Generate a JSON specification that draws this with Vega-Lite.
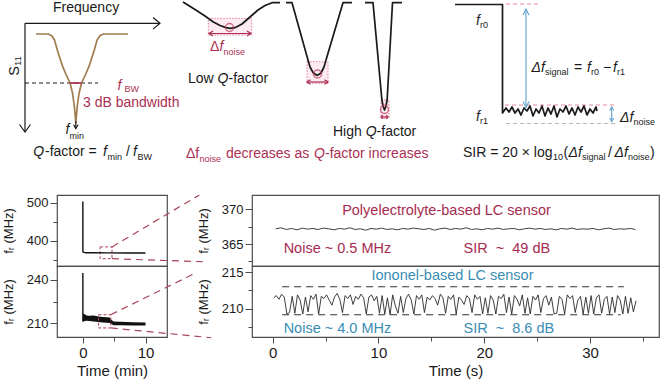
{
"$schema":"https://vega.github.io/schema/vega-lite/v6.json",
"padding":0,
"background":"#ffffff",
"bounds":"flush",
"spacing":0,
"resolve":{"scale":{"x":"independent","y":"independent","color":"independent"}},
"config":{"font":"Liberation Sans","view":{"stroke":"#4d4d4d","strokeWidth":1.2},"axis":{"domain":false,"grid":false,"labelColor":"#1a1a1a","titleColor":"#1a1a1a","tickColor":"#4d4d4d","tickWidth":1,"titleFontWeight":"normal","labelFont":"Liberation Sans","titleFont":"Liberation Sans"},"text":{"font":"Liberation Sans"}},
"datasets":{
"topSolid":[
{"g":"dip","c":"tan","x":36,"y":34},{"g":"dip","c":"tan","x":48,"y":34},{"g":"dip","c":"tan","x":51.5,"y":35.5},{"g":"dip","c":"tan","x":54.5,"y":40},{"g":"dip","c":"tan","x":57.3,"y":50},{"g":"dip","c":"tan","x":60,"y":58.5},{"g":"dip","c":"tan","x":62.7,"y":66.7},{"g":"dip","c":"tan","x":66.3,"y":75},{"g":"dip","c":"tan","x":70,"y":83},{"g":"dip","c":"tan","x":72.5,"y":93},{"g":"dip","c":"tan","x":74.2,"y":105},{"g":"dip","c":"tan","x":75.8,"y":122.7},{"g":"dip","c":"tan","x":77.4,"y":105},{"g":"dip","c":"tan","x":79.1,"y":93},{"g":"dip","c":"tan","x":81.6,"y":83},{"g":"dip","c":"tan","x":85.3,"y":75},{"g":"dip","c":"tan","x":88.9,"y":66.7},{"g":"dip","c":"tan","x":91.6,"y":58.5},{"g":"dip","c":"tan","x":94.3,"y":50},{"g":"dip","c":"tan","x":97.1,"y":40},{"g":"dip","c":"tan","x":100.1,"y":35.5},{"g":"dip","c":"tan","x":103.6,"y":34},{"g":"dip","c":"tan","x":128,"y":34},
{"g":"bw","c":"accent","x":70,"y":83},{"g":"bw","c":"accent","x":81.6,"y":83},
{"g":"lowq","c":"ink","x":183,"y":2},{"g":"lowq","c":"ink","x":195,"y":9.5},{"g":"lowq","c":"ink","x":205,"y":16},{"g":"lowq","c":"ink","x":213,"y":21.7},{"g":"lowq","c":"ink","x":220,"y":25.5},{"g":"lowq","c":"ink","x":226,"y":27.6},{"g":"lowq","c":"ink","x":230,"y":28.3},{"g":"lowq","c":"ink","x":235,"y":27.7},{"g":"lowq","c":"ink","x":242,"y":24},{"g":"lowq","c":"ink","x":250,"y":17},{"g":"lowq","c":"ink","x":258,"y":10},{"g":"lowq","c":"ink","x":265,"y":5.5},{"g":"lowq","c":"ink","x":272,"y":2.7},{"g":"lowq","c":"ink","x":280,"y":2.7},
{"g":"medq","c":"ink","x":286,"y":2.7},{"g":"medq","c":"ink","x":292,"y":2.7},{"g":"medq","c":"ink","x":308,"y":60},{"g":"medq","c":"ink","x":310,"y":67},{"g":"medq","c":"ink","x":313,"y":72.5},{"g":"medq","c":"ink","x":317,"y":75.5},{"g":"medq","c":"ink","x":321,"y":73},{"g":"medq","c":"ink","x":324,"y":67},{"g":"medq","c":"ink","x":326,"y":60},{"g":"medq","c":"ink","x":343,"y":2.7},{"g":"medq","c":"ink","x":352,"y":2.7},
{"g":"highq","c":"ink","x":365,"y":2.7},{"g":"highq","c":"ink","x":373,"y":2.7},{"g":"highq","c":"ink","x":381.8,"y":99},{"g":"highq","c":"ink","x":383,"y":106},{"g":"highq","c":"ink","x":384.5,"y":110},{"g":"highq","c":"ink","x":386,"y":106},{"g":"highq","c":"ink","x":387.2,"y":99},{"g":"highq","c":"ink","x":392.5,"y":2.7},{"g":"highq","c":"ink","x":402,"y":2.7},
{"g":"step","c":"ink","x":455,"y":4.5},{"g":"step","c":"ink","x":502.5,"y":4.5},{"g":"step","c":"ink","x":502.5,"y":113},{"g":"step","c":"ink","x":506,"y":108},{"g":"step","c":"ink","x":509,"y":112},{"g":"step","c":"ink","x":512,"y":107},{"g":"step","c":"ink","x":515,"y":113},{"g":"step","c":"ink","x":518,"y":109},{"g":"step","c":"ink","x":521,"y":115},{"g":"step","c":"ink","x":524,"y":108},{"g":"step","c":"ink","x":527,"y":111},{"g":"step","c":"ink","x":530,"y":106},{"g":"step","c":"ink","x":533,"y":116},{"g":"step","c":"ink","x":536,"y":109},{"g":"step","c":"ink","x":539,"y":113},{"g":"step","c":"ink","x":542,"y":106},{"g":"step","c":"ink","x":545,"y":116},{"g":"step","c":"ink","x":548,"y":108},{"g":"step","c":"ink","x":551,"y":114},{"g":"step","c":"ink","x":554,"y":106},{"g":"step","c":"ink","x":557,"y":117},{"g":"step","c":"ink","x":560,"y":109},{"g":"step","c":"ink","x":563,"y":112},{"g":"step","c":"ink","x":566,"y":106},{"g":"step","c":"ink","x":569,"y":114},{"g":"step","c":"ink","x":572,"y":108},{"g":"step","c":"ink","x":575,"y":115},{"g":"step","c":"ink","x":578,"y":107},{"g":"step","c":"ink","x":581,"y":112},{"g":"step","c":"ink","x":584,"y":106},{"g":"step","c":"ink","x":587,"y":115},{"g":"step","c":"ink","x":590,"y":109},{"g":"step","c":"ink","x":593,"y":113},{"g":"step","c":"ink","x":596,"y":107},{"g":"step","c":"ink","x":597,"y":111}
],
"topFine":[
{"g":"ax","c":"ink","x":25,"y":23.3},{"g":"ax","c":"ink","x":160,"y":23.3},
{"g":"axh","c":"ink","x":153,"y":17.5},{"g":"axh","c":"ink","x":160,"y":23.3},{"g":"axh","c":"ink","x":153,"y":29.1},
{"g":"ay","c":"ink","x":25,"y":23.3},{"g":"ay","c":"ink","x":25,"y":132},
{"g":"ayh","c":"ink","x":19.5,"y":124.5},{"g":"ayh","c":"ink","x":25,"y":132},{"g":"ayh","c":"ink","x":30.5,"y":124.5},
{"g":"tp","c":"ink","x":75.8,"y":121},{"g":"tp","c":"ink","x":75.8,"y":128.5},
{"g":"tph","c":"ink","x":73.6,"y":124.8},{"g":"tph","c":"ink","x":75.8,"y":128.5},{"g":"tph","c":"ink","x":78,"y":124.8},
{"g":"da1","c":"accent","x":209,"y":33.5},{"g":"da1","c":"accent","x":251,"y":33.5},
{"g":"da1a","c":"accent","x":213,"y":31},{"g":"da1a","c":"accent","x":209,"y":33.5},{"g":"da1a","c":"accent","x":213,"y":36},
{"g":"da1b","c":"accent","x":247,"y":31},{"g":"da1b","c":"accent","x":251,"y":33.5},{"g":"da1b","c":"accent","x":247,"y":36},
{"g":"da2","c":"accent","x":307,"y":82},{"g":"da2","c":"accent","x":328,"y":82},
{"g":"da2a","c":"accent","x":310.5,"y":79.8},{"g":"da2a","c":"accent","x":307,"y":82},{"g":"da2a","c":"accent","x":310.5,"y":84.2},
{"g":"da2b","c":"accent","x":324.5,"y":79.8},{"g":"da2b","c":"accent","x":328,"y":82},{"g":"da2b","c":"accent","x":324.5,"y":84.2},
{"g":"da3","c":"accent","x":381,"y":117},{"g":"da3","c":"accent","x":388,"y":117},
{"g":"da3a","c":"accent","x":383,"y":115.3},{"g":"da3a","c":"accent","x":381,"y":117},{"g":"da3a","c":"accent","x":383,"y":118.7},
{"g":"da3b","c":"accent","x":386,"y":115.3},{"g":"da3b","c":"accent","x":388,"y":117},{"g":"da3b","c":"accent","x":386,"y":118.7},
{"g":"bl","c":"sky","x":526,"y":9},{"g":"bl","c":"sky","x":526,"y":107.5},
{"g":"bla","c":"sky","x":523,"y":15},{"g":"bla","c":"sky","x":526,"y":9},{"g":"bla","c":"sky","x":529,"y":15},
{"g":"blb","c":"sky","x":523,"y":101.5},{"g":"blb","c":"sky","x":526,"y":107.5},{"g":"blb","c":"sky","x":529,"y":101.5},
{"g":"bs","c":"sky","x":611.7,"y":107},{"g":"bs","c":"sky","x":611.7,"y":121.5},
{"g":"bsa","c":"sky","x":609.7,"y":110.5},{"g":"bsa","c":"sky","x":611.7,"y":107},{"g":"bsa","c":"sky","x":613.7,"y":110.5},
{"g":"bsb","c":"sky","x":609.7,"y":118},{"g":"bsb","c":"sky","x":611.7,"y":121.5},{"g":"bsb","c":"sky","x":613.7,"y":118}
],
"topDash":[
{"g":"bwd","c":"ink","x":25,"y":83},{"g":"bwd","c":"ink","x":98,"y":83},
{"g":"c0","c":"pink","x":506,"y":4},{"g":"c0","c":"pink","x":540,"y":4},
{"g":"c1","c":"pink","x":505,"y":105},{"g":"c1","c":"pink","x":617,"y":105},
{"g":"c2","c":"mist","x":506,"y":123.5},{"g":"c2","c":"mist","x":617,"y":123.5}
],
"topBoxes":[{"x":208.3,"y":18.3,"x2":251.7,"y2":35},{"x":307,"y":61.7,"x2":328,"y2":83.3},{"x":381,"y":100,"x2":389,"y2":118}],
"topDots":[{"x":229.5,"y":27.5},{"x":317.5,"y":74},{"x":384.5,"y":109.5}],
"txtN":[
{"c":"ink","x":53,"y":12,"s":"Frequency"},
{"c":"accent","x":83,"y":107,"s":"3 dB bandwidth"},
{"c":"ink","x":45,"y":156,"s":"-factor ="},
{"c":"ink","x":126,"y":156,"s":"/"},
{"c":"ink","x":188,"y":83,"s":"Low"},
{"c":"ink","x":228.5,"y":83,"s":"-factor"},
{"c":"ink","x":333,"y":136,"s":"High"},
{"c":"ink","x":376.6,"y":136,"s":"-factor"},
{"c":"accent","x":210,"y":51,"s":"Δ"},
{"c":"accent","x":186,"y":158,"s":"Δf"},
{"c":"accent","x":226,"y":158,"s":"decreases as"},
{"c":"accent","x":325,"y":158,"s":"-factor increases"},
{"c":"ink","x":574,"y":71.5,"s":"="},
{"c":"ink","x":603,"y":71.5,"s":"−"},
{"c":"ink","x":463,"y":156.5,"s":"SIR = 20 × log"},
{"c":"ink","x":563.5,"y":156.5,"s":"("},
{"c":"ink","x":608,"y":156.5,"s":"/"},
{"c":"ink","x":650,"y":156.5,"s":")"}
],
"txtI":[
{"c":"accent","x":117.5,"y":89.5,"s":"f"},
{"c":"ink","x":65.5,"y":134,"s":"f"},
{"c":"ink","x":33.3,"y":156,"s":"Q"},
{"c":"ink","x":103,"y":156,"s":"f"},
{"c":"ink","x":133,"y":156,"s":"f"},
{"c":"accent","x":219.5,"y":51,"s":"f"},
{"c":"ink","x":217.6,"y":83,"s":"Q"},
{"c":"ink","x":365.7,"y":136,"s":"Q"},
{"c":"accent","x":314,"y":158,"s":"Q"},
{"c":"ink","x":476,"y":25,"s":"f"},
{"c":"ink","x":476,"y":121,"s":"f"},
{"c":"ink","x":531.5,"y":71.5,"s":"Δf"},
{"c":"ink","x":587,"y":71.5,"s":"f"},
{"c":"ink","x":613,"y":71.5,"s":"f"},
{"c":"ink","x":620,"y":121.5,"s":"Δf"},
{"c":"ink","x":568.5,"y":156.5,"s":"Δf"},
{"c":"ink","x":614.5,"y":156.5,"s":"Δf"}
],
"txtS":[
{"c":"accent","x":124.5,"y":92,"s":"BW"},
{"c":"ink","x":69.5,"y":139,"s":"min"},
{"c":"ink","x":107.5,"y":160,"s":"min"},
{"c":"ink","x":137.5,"y":160,"s":"BW"},
{"c":"accent","x":223.5,"y":55,"s":"noise"},
{"c":"accent","x":199.5,"y":162,"s":"noise"},
{"c":"ink","x":480,"y":28,"s":"r0"},
{"c":"ink","x":480,"y":124,"s":"r1"},
{"c":"ink","x":545,"y":75,"s":"signal"},
{"c":"ink","x":591,"y":75,"s":"r0"},
{"c":"ink","x":617,"y":75,"s":"r1"},
{"c":"ink","x":633.5,"y":125,"s":"noise"},
{"c":"ink","x":553,"y":160,"s":"10"},
{"c":"ink","x":582,"y":160,"s":"signal"},
{"c":"ink","x":628,"y":160,"s":"noise"}
],
"txtRot":[{"x":15,"y":71,"s":"S"}],
"txtRotS":[{"x":18,"y":61,"s":"11"}],
"l1Line":[{"t":0,"f":503},{"t":0,"f":371},{"t":0.15,"f":369.5},{"t":0.5,"f":368.8},{"t":1.5,"f":368.5},{"t":4,"f":368.3},{"t":7,"f":368.1},{"t":10,"f":368}],
"l1Box":[{"t":2.75,"t2":4.65,"f":353,"f2":384}],
"l1Zoom":[{"g":"u","t":4.65,"f":384},{"g":"u","t":18.6,"f":520.1},{"g":"d","t":4.65,"f":353},{"g":"d","t":19.1,"f":345.2}],
"l2Line":[{"t":0,"f":244.6},{"t":0,"f":211.3}],
"l2Band":[{"t":0,"f":211.2,"f2":212.5},{"t":0.05,"f":211.2,"f2":216.8},{"t":0.3,"f":211.6,"f2":216.3},{"t":0.6,"f":211.8,"f2":215.4},{"t":1.0,"f":211.7,"f2":215.2},{"t":1.7,"f":211.4,"f2":215.4},{"t":2.5,"f":211.0,"f2":214.8},{"t":3.2,"f":210.7,"f2":214.5},{"t":3.8,"f":210.4,"f2":214.3},{"t":4.3,"f":210.3,"f2":214.0},{"t":4.6,"f":209.4,"f2":212.4},{"t":4.9,"f":208.7,"f2":211.4},{"t":6,"f":208.7,"f2":211.1},{"t":8,"f":208.6,"f2":210.9},{"t":10,"f":208.6,"f2":210.7}],
"l2Box":[{"t":2.5,"t2":4.45,"f":206.9,"f2":216}],
"l2Zoom":[{"g":"u","t":4.45,"f":216},{"g":"u","t":18.1,"f":244.8},{"g":"d","t":4.45,"f":206.9},{"g":"d","t":20.5,"f":200.2}],
"r1Line":[{"t":0.3,"f":367.2},{"t":0.8,"f":367.35},{"t":1.3,"f":367.1},{"t":1.8,"f":367.25},{"t":2.3,"f":367.05},{"t":2.8,"f":367.3},{"t":3.3,"f":367.15},{"t":3.8,"f":367.25},{"t":4.3,"f":367.1},{"t":4.8,"f":367.3},{"t":5.3,"f":367.2},{"t":5.8,"f":367.05},{"t":6.3,"f":367.25},{"t":6.8,"f":367.15},{"t":7.3,"f":367.35},{"t":7.8,"f":367.1},{"t":8.3,"f":367.2},{"t":8.8,"f":367.0},{"t":9.3,"f":367.25},{"t":9.8,"f":367.15},{"t":10.3,"f":367.3},{"t":10.8,"f":367.1},{"t":11.3,"f":367.2},{"t":11.8,"f":367.05},{"t":12.3,"f":367.25},{"t":12.8,"f":367.15},{"t":13.3,"f":367.3},{"t":13.8,"f":367.2},{"t":14.3,"f":367.1},{"t":14.8,"f":367.25},{"t":15.3,"f":367.0},{"t":15.8,"f":367.2},{"t":16.3,"f":367.3},{"t":16.8,"f":367.1},{"t":17.3,"f":367.25},{"t":17.8,"f":367.15},{"t":18.3,"f":367.35},{"t":18.8,"f":367.1},{"t":19.3,"f":367.2},{"t":19.8,"f":367.05},{"t":20.3,"f":367.25},{"t":20.8,"f":367.15},{"t":21.3,"f":367.3},{"t":21.8,"f":367.1},{"t":22.3,"f":367.2},{"t":22.8,"f":367.25},{"t":23.3,"f":367.05},{"t":23.8,"f":367.2},{"t":24.3,"f":367.3},{"t":24.8,"f":367.15},{"t":25.3,"f":367.25},{"t":25.8,"f":367.1},{"t":26.3,"f":367.2},{"t":26.8,"f":367.05},{"t":27.3,"f":367.25},{"t":27.8,"f":367.15},{"t":28.3,"f":367.3},{"t":28.8,"f":367.1},{"t":29.3,"f":367.2},{"t":29.8,"f":367.15},{"t":30.3,"f":367.25},{"t":30.8,"f":367.05},{"t":31.3,"f":367.2},{"t":31.8,"f":367.3},{"t":32.3,"f":367.1},{"t":32.8,"f":367.2},{"t":33.3,"f":367.15},{"t":33.8,"f":367.25},{"t":34.3,"f":367.1}],
"r1Txt":[{"t":6.57,"f":369.15,"s":"Polyelectrolyte-based LC sensor"},{"t":1.04,"f":363.73,"s":"Noise ~ 0.5 MHz"},{"t":18.04,"f":363.73,"s":"SIR\u00a0 ~\u00a0 49 dB"}],
"r2Line":[{"t":0.1,"f":211.5},{"t":0.35,"f":211.8},{"t":0.6,"f":211.3},{"t":0.85,"f":212.0},{"t":1.1,"f":211.6},{"t":1.35,"f":209.3},{"t":1.6,"f":209.5},{"t":1.85,"f":211.7},{"t":2.1,"f":209.4},{"t":2.35,"f":211.9},{"t":2.6,"f":211.2},{"t":2.85,"f":209.3},{"t":3.1,"f":211.6},{"t":3.35,"f":209.6},{"t":3.6,"f":211.8},{"t":3.85,"f":211.3},{"t":4.1,"f":212.0},{"t":4.35,"f":209.3},{"t":4.6,"f":211.7},{"t":4.85,"f":211.4},{"t":5.1,"f":211.9},{"t":5.35,"f":211.2},{"t":5.6,"f":210.5},{"t":5.85,"f":211.6},{"t":6.1,"f":212.1},{"t":6.35,"f":211.3},{"t":6.6,"f":209.5},{"t":6.85,"f":211.8},{"t":7.1,"f":211.4},{"t":7.35,"f":211.9},{"t":7.6,"f":210.6},{"t":7.85,"f":211.7},{"t":8.1,"f":211.3},{"t":8.35,"f":212.0},{"t":8.6,"f":211.5},{"t":8.85,"f":209.3},{"t":9.1,"f":211.6},{"t":9.35,"f":211.9},{"t":9.6,"f":211.1},{"t":9.85,"f":211.7},{"t":10.1,"f":209.4},{"t":10.35,"f":211.8},{"t":10.6,"f":209.3},{"t":10.85,"f":211.5},{"t":11.1,"f":209.2},{"t":11.35,"f":211.9},{"t":11.6,"f":210.4},{"t":11.85,"f":209.4},{"t":12.1,"f":211.7},{"t":12.35,"f":209.5},{"t":12.6,"f":211.4},{"t":12.85,"f":212.0},{"t":13.1,"f":211.2},{"t":13.35,"f":209.3},{"t":13.6,"f":211.8},{"t":13.85,"f":211.3},{"t":14.1,"f":211.9},{"t":14.35,"f":209.5},{"t":14.6,"f":211.6},{"t":14.85,"f":211.2},{"t":15.1,"f":211.8},{"t":15.35,"f":211.4},{"t":15.6,"f":210.5},{"t":15.85,"f":212.0},{"t":16.1,"f":211.5},{"t":16.35,"f":209.4},{"t":16.6,"f":211.7},{"t":16.85,"f":211.3},{"t":17.1,"f":211.9},{"t":17.35,"f":209.3},{"t":17.6,"f":211.6},{"t":17.85,"f":211.2},{"t":18.1,"f":210.6},{"t":18.35,"f":211.8},{"t":18.6,"f":211.4},{"t":18.85,"f":209.5},{"t":19.1,"f":211.9},{"t":19.35,"f":211.3},{"t":19.6,"f":211.7},{"t":19.85,"f":209.3},{"t":20.1,"f":211.5},{"t":20.35,"f":209.4},{"t":20.6,"f":211.8},{"t":20.85,"f":211.2},{"t":21.1,"f":209.3},{"t":21.35,"f":211.7},{"t":21.6,"f":211.4},{"t":21.85,"f":212.0},{"t":22.1,"f":209.5},{"t":22.35,"f":211.6},{"t":22.6,"f":209.3},{"t":22.85,"f":211.8},{"t":23.1,"f":211.3},{"t":23.35,"f":210.4},{"t":23.6,"f":211.9},{"t":23.85,"f":209.4},{"t":24.1,"f":211.5},{"t":24.35,"f":209.3},{"t":24.6,"f":211.7},{"t":24.85,"f":211.2},{"t":25.1,"f":211.9},{"t":25.35,"f":209.5},{"t":25.6,"f":211.4},{"t":25.85,"f":211.8},{"t":26.1,"f":210.5},{"t":26.35,"f":211.6},{"t":26.6,"f":209.3},{"t":26.85,"f":209.4},{"t":27.1,"f":211.7},{"t":27.35,"f":211.3},{"t":27.6,"f":209.3},{"t":27.85,"f":211.9},{"t":28.1,"f":211.4},{"t":28.35,"f":211.8},{"t":28.6,"f":209.5},{"t":28.85,"f":211.2},{"t":29.1,"f":211.7},{"t":29.35,"f":209.3},{"t":29.6,"f":211.6},{"t":29.85,"f":209.4},{"t":30.1,"f":211.8},{"t":30.35,"f":209.3},{"t":30.6,"f":211.5},{"t":30.85,"f":211.9},{"t":31.1,"f":209.4},{"t":31.35,"f":211.3},{"t":31.6,"f":211.7},{"t":31.85,"f":209.3},{"t":32.1,"f":211.6},{"t":32.35,"f":209.5},{"t":32.6,"f":211.8},{"t":32.85,"f":211.2},{"t":33.1,"f":209.3},{"t":33.35,"f":211.7},{"t":33.6,"f":209.4},{"t":33.85,"f":211.5},{"t":34.1,"f":209.6},{"t":34.35,"f":211.1}],
"r2Dash":[{"g":"hi","t":0.9,"f":213},{"g":"hi","t":33.2,"f":213},{"g":"lo","t":0.9,"f":209.2},{"g":"lo","t":32.9,"f":209.2}],
"r2Txt":[{"t":9.34,"f":213.87,"s":"Iononel-based LC sensor"},{"t":1.04,"f":206.77,"s":"Noise ~ 4.0 MHz"},{"t":18.04,"f":206.77,"s":"SIR\u00a0 ~\u00a0 8.6 dB"}]
},
"vconcat":[
{
"width":660,"height":195,
"view":{"stroke":null},
"encoding":{
"x":{"field":"x","type":"quantitative","scale":{"domain":[0,660],"nice":false,"zero":false},"axis":null},
"y":{"field":"y","type":"quantitative","scale":{"domain":[0,195],"reverse":true,"nice":false,"zero":false},"axis":null}
},
"layer":[
{"data":{"name":"topBoxes"},"mark":{"type":"rect","fill":"#fcebf0","stroke":"#e07d96","strokeWidth":1,"strokeDash":[1.5,1.5]},"encoding":{"x2":{"field":"x2"},"y2":{"field":"y2"}}},
{"data":{"name":"topDash"},"mark":{"type":"line","strokeDash":[4,3],"strokeWidth":1.2},"encoding":{"color":{"field":"c","type":"nominal","scale":{"domain":["ink","accent","tan","sky","pink","mist"],"range":["#1a1a1a","#ab2f52","#9f7d4f","#6aa8cf","#e8899f","#b8b8b8"]},"legend":null},"detail":{"field":"g"},"order":{"value":null}}},
{"data":{"name":"topSolid"},"mark":{"type":"line","strokeWidth":1.7,"strokeJoin":"round"},"encoding":{"color":{"field":"c","type":"nominal","scale":{"domain":["ink","accent","tan","sky","pink","mist"],"range":["#1a1a1a","#ab2f52","#9f7d4f","#6aa8cf","#e8899f","#b8b8b8"]},"legend":null},"detail":{"field":"g"},"order":{"value":null}}},
{"data":{"name":"topFine"},"mark":{"type":"line","strokeWidth":1.2},"encoding":{"color":{"field":"c","type":"nominal","scale":{"domain":["ink","accent","tan","sky","pink","mist"],"range":["#1a1a1a","#ab2f52","#9f7d4f","#6aa8cf","#e8899f","#b8b8b8"]},"legend":null},"detail":{"field":"g"},"order":{"value":null}}},
{"data":{"name":"topDots"},"mark":{"type":"point","shape":"circle","filled":false,"size":64,"strokeWidth":1.4,"color":"#c23a5e"}},
{"data":{"name":"txtN"},"mark":{"type":"text","align":"left","baseline":"alphabetic","fontSize":14},"encoding":{"text":{"field":"s"},"color":{"field":"c","type":"nominal","scale":{"domain":["ink","accent","tan","sky","pink","mist"],"range":["#1a1a1a","#ab2f52","#9f7d4f","#6aa8cf","#e8899f","#b8b8b8"]},"legend":null}}},
{"data":{"name":"txtI"},"mark":{"type":"text","align":"left","baseline":"alphabetic","fontSize":14,"fontStyle":"italic"},"encoding":{"text":{"field":"s"},"color":{"field":"c","type":"nominal","scale":{"domain":["ink","accent","tan","sky","pink","mist"],"range":["#1a1a1a","#ab2f52","#9f7d4f","#6aa8cf","#e8899f","#b8b8b8"]},"legend":null}}},
{"data":{"name":"txtS"},"mark":{"type":"text","align":"left","baseline":"alphabetic","fontSize":9},"encoding":{"text":{"field":"s"},"color":{"field":"c","type":"nominal","scale":{"domain":["ink","accent","tan","sky","pink","mist"],"range":["#1a1a1a","#ab2f52","#9f7d4f","#6aa8cf","#e8899f","#b8b8b8"]},"legend":null}}},
{"data":{"name":"txtRot"},"mark":{"type":"text","align":"center","baseline":"middle","fontSize":14.5,"angle":270,"color":"#1a1a1a"},"encoding":{"text":{"field":"s"}}},
{"data":{"name":"txtRotS"},"mark":{"type":"text","align":"center","baseline":"middle","fontSize":9,"angle":270,"color":"#1a1a1a"},"encoding":{"text":{"field":"s"}}}
]
},
{
"bounds":"flush","spacing":0,"columns":4,
"resolve":{"scale":{"x":"independent","y":"independent"}},
"concat":[
{"width":57,"height":71,"view":{"stroke":null},"data":{"values":[{"s":""}]},"mark":{"type":"text"},"encoding":{"text":{"field":"s"}}},
{
"width":110,"height":71,
"encoding":{
"x":{"field":"t","type":"quantitative","scale":{"domain":[-4.13,13.43],"nice":false,"zero":false},"axis":null},
"y":{"field":"f","type":"quantitative","scale":{"domain":[333.9,520.1],"nice":false,"zero":false},"title":"fᵣ (MHz)","axis":{"values":[350,400,450,500],"labelExpr":"datum.value % 100 === 0 ? datum.label : ''","tickSize":{"condition":{"test":"datum.value % 100 !== 0","value":4},"value":7},"labelFontSize":13,"titleFontSize":13,"labelPadding":2,"titlePadding":11}}
},
"layer":[
{"data":{"name":"l1Zoom"},"mark":{"type":"line","strokeDash":[7,5],"strokeWidth":1.2,"color":"#a8475a"},"encoding":{"detail":{"field":"g"},"order":{"value":null}}},
{"data":{"name":"l1Box"},"mark":{"type":"rect","fill":null,"stroke":"#a8475a","strokeDash":[3,2],"strokeWidth":1},"encoding":{"x2":{"field":"t2"},"y2":{"field":"f2"}}},
{"data":{"name":"l1Line"},"mark":{"type":"line","color":"#111111","strokeWidth":1.4},"encoding":{"order":{"value":null}}}
]
},
{"width":85,"height":71,"view":{"stroke":null},"data":{"values":[{"s":""}]},"mark":{"type":"text"},"encoding":{"text":{"field":"s"}}},
{
"width":407,"height":71,
"encoding":{
"x":{"field":"t","type":"quantitative","scale":{"domain":[-1.95,36.52],"nice":false,"zero":false},"axis":null},
"y":{"field":"f","type":"quantitative","scale":{"domain":[361.83,372.08],"nice":false,"zero":false},"title":"fᵣ (MHz)","axis":{"values":[362.5,365,367.5,370],"labelExpr":"datum.value % 5 === 0 ? datum.label : ''","tickSize":{"condition":{"test":"datum.value % 5 !== 0","value":4},"value":7},"labelFontSize":13,"titleFontSize":13,"labelPadding":2,"titlePadding":11}}
},
"layer":[
{"data":{"name":"r1Line"},"mark":{"type":"line","color":"#2a2a2a","strokeWidth":0.9}},
{"data":{"name":"r1Txt"},"mark":{"type":"text","align":"left","baseline":"alphabetic","fontSize":14.5,"color":"#a62c50"},"encoding":{"text":{"field":"s"}}}
]
},
{"width":57,"height":71,"view":{"stroke":null},"data":{"values":[{"s":""}]},"mark":{"type":"text"},"encoding":{"text":{"field":"s"}}},
{
"width":110,"height":71,
"encoding":{
"x":{"field":"t","type":"quantitative","scale":{"domain":[-4.13,13.43],"nice":false,"zero":false},"title":"Time (min)","axis":{"values":[0,5,10],"labelExpr":"datum.value % 10 === 0 ? datum.label : ''","tickSize":{"condition":{"test":"datum.value % 10 !== 0","value":4},"value":6},"labelFontSize":15,"titleFontSize":15,"labelPadding":2,"titlePadding":3}},
"y":{"field":"f","type":"quantitative","scale":{"domain":[200.7,249.4],"nice":false,"zero":false},"title":"fᵣ (MHz)","axis":{"values":[210,225,240],"labelExpr":"datum.value % 30 === 0 ? datum.label : ''","tickSize":{"condition":{"test":"datum.value % 30 !== 0","value":4},"value":7},"labelFontSize":13,"titleFontSize":13,"labelPadding":2,"titlePadding":11}}
},
"layer":[
{"data":{"name":"l2Zoom"},"mark":{"type":"line","strokeDash":[7,5],"strokeWidth":1.2,"color":"#a8475a"},"encoding":{"detail":{"field":"g"},"order":{"value":null}}},
{"data":{"name":"l2Band"},"mark":{"type":"area","color":"#111111","opacity":1},"encoding":{"y2":{"field":"f2"}}},
{"data":{"name":"l2Line"},"mark":{"type":"line","color":"#111111","strokeWidth":1.4},"encoding":{"order":{"value":null}}},
{"data":{"name":"l2Box"},"mark":{"type":"rect","fill":null,"stroke":"#a8475a","strokeDash":[3,2],"strokeWidth":1},"encoding":{"x2":{"field":"t2"},"y2":{"field":"f2"}}}
]
},
{"width":85,"height":71,"view":{"stroke":null},"data":{"values":[{"s":""}]},"mark":{"type":"text"},"encoding":{"text":{"field":"s"}}},
{
"width":407,"height":71,
"encoding":{
"x":{"field":"t","type":"quantitative","scale":{"domain":[-1.95,36.52],"nice":false,"zero":false},"title":"Time (s)","axis":{"values":[0,5,10,15,20,25,30,35],"labelExpr":"datum.value % 10 === 0 ? datum.label : ''","tickSize":{"condition":{"test":"datum.value % 10 !== 0","value":4},"value":6},"labelFontSize":15,"titleFontSize":15,"labelPadding":2,"titlePadding":3}},
"y":{"field":"f","type":"quantitative","scale":{"domain":[206.18,215.82],"nice":false,"zero":false},"title":"fᵣ (MHz)","axis":{"values":[207.5,210,212.5,215],"labelExpr":"datum.value % 5 === 0 ? datum.label : ''","tickSize":{"condition":{"test":"datum.value % 5 !== 0","value":4},"value":7},"labelFontSize":13,"titleFontSize":13,"labelPadding":2,"titlePadding":11}}
},
"layer":[
{"data":{"name":"r2Dash"},"mark":{"type":"line","color":"#333333","strokeDash":[7,5],"strokeWidth":1.2},"encoding":{"detail":{"field":"g"}}},
{"data":{"name":"r2Line"},"mark":{"type":"line","color":"#2a2a2a","strokeWidth":0.9}},
{"data":{"name":"r2Txt"},"mark":{"type":"text","align":"left","baseline":"alphabetic","fontSize":14.5,"color":"#3a8db4"},"encoding":{"text":{"field":"s"}}}
]
}
]
}
]
}
